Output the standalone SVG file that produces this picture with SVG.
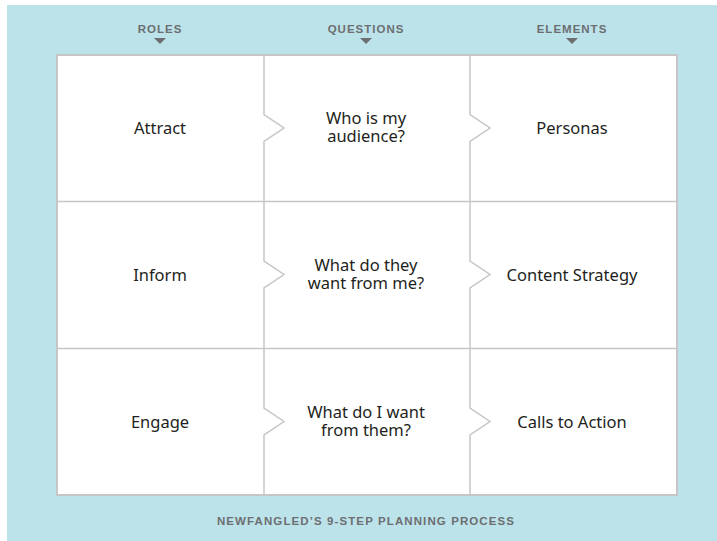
<svg xmlns="http://www.w3.org/2000/svg" width="717" height="541" viewBox="0 0 717 541">
  <style>
    .head { font-family: "Liberation Sans", Arial, sans-serif; font-weight: bold; font-size: 11.5px; fill: #6d6e71; letter-spacing: 1px; text-anchor: middle; }
    .cell { font-family: "Noto Sans", "Liberation Sans", sans-serif; font-size: 16.5px; fill: #231f20; text-anchor: middle; }
    .grid { fill: none; stroke: #c6c6c6; stroke-width: 1.5; stroke-linejoin: miter; }
    .tri { fill: #6d6e71; }
  </style>
  <defs>
    <path id="tri" class="tri" d="M-6,0 L6,0 L0,6 Z"/>
  </defs>

  <!-- background panel -->
  <rect x="7" y="5" width="710" height="536" fill="#bce3ea"/>

  <!-- column headers -->
  <g id="headers">
    <text class="head" x="160" y="33">ROLES</text>
    <use href="#tri" x="160" y="38"/>
    <text class="head" x="366" y="33">QUESTIONS</text>
    <use href="#tri" x="366" y="38"/>
    <text class="head" x="572" y="33">ELEMENTS</text>
    <use href="#tri" x="572" y="38"/>
  </g>

  <!-- white board -->
  <rect x="57" y="55" width="620" height="440" fill="#ffffff" stroke="#c6c6c6" stroke-width="2"/>

  <!-- grid lines with chevron notches -->
  <g id="connectors">
    <line class="grid" x1="57" y1="201.5" x2="677" y2="201.5"/>
    <line class="grid" x1="57" y1="348.5" x2="677" y2="348.5"/>
    <path class="grid" d="M264,55 V114.5 L284,128 L264,141.5 V261 L284,274.5 L264,288 V408 L284,421.5 L264,435 V495"/>
    <path class="grid" d="M470,55 V114.5 L490,128 L470,141.5 V261 L490,274.5 L470,288 V408 L490,421.5 L470,435 V495"/>
  </g>

  <!-- row 1 -->
  <g id="attract"><text class="cell" x="160" y="134">Attract</text></g>
  <g id="who-audience">
    <text class="cell" x="366" y="124">Who is my<tspan x="366" dy="18">audience?</tspan></text>
  </g>
  <g id="personas"><text class="cell" x="572" y="134">Personas</text></g>

  <!-- row 2 -->
  <g id="inform"><text class="cell" x="160" y="281">Inform</text></g>
  <g id="what-they-want">
    <text class="cell" x="366" y="271">What do they<tspan x="366" dy="18">want from me?</tspan></text>
  </g>
  <g id="content-strategy"><text class="cell" x="572" y="281">Content Strategy</text></g>

  <!-- row 3 -->
  <g id="engage"><text class="cell" x="160" y="428">Engage</text></g>
  <g id="what-i-want">
    <text class="cell" x="366" y="418">What do I want<tspan x="366" dy="18">from them?</tspan></text>
  </g>
  <g id="calls-to-action"><text class="cell" x="572" y="428">Calls to Action</text></g>

  <!-- footer -->
  <text class="head" x="366" y="525" style="letter-spacing:1.1px">NEWFANGLED’S 9-STEP PLANNING PROCESS</text>
</svg>
